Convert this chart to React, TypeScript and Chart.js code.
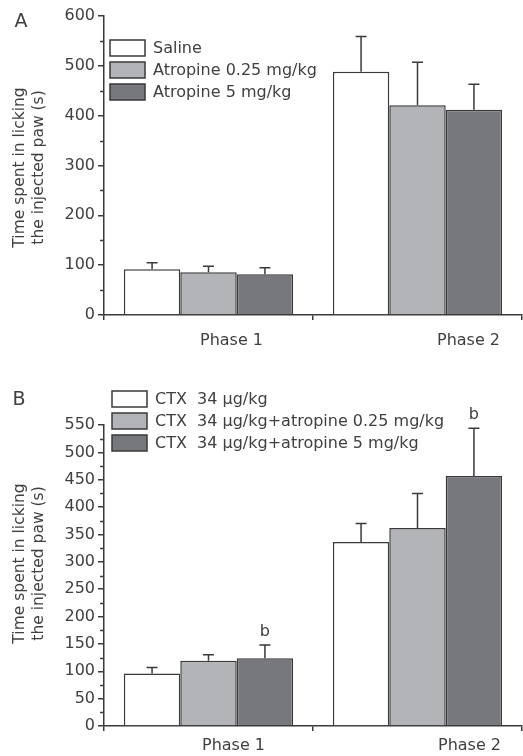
import React, { useEffect, useRef } from "react";
import { Chart, registerables } from "chart.js";
Chart.register(...registerables);

// ---------- data ----------
const categories = ["Phase 1", "Phase 2"];

const seriesLabelsA = ["Saline", "Atropine 0.25 mg/kg", "Atropine 5 mg/kg"];
const salineA = [92, 488];
const atropine025A = [86, 421];
const atropine5A = [82, 412];
const salineErrA = [13, 71];
const atropine025ErrA = [12, 86];
const atropine5ErrA = [13, 51];

const seriesLabelsB = [
  "CTX  34 μg/kg",
  "CTX  34 μg/kg+atropine 0.25 mg/kg",
  "CTX  34 μg/kg+atropine 5 mg/kg",
];
const ctxB = [96, 336];
const ctxAtropine025B = [119, 362];
const ctxAtropine5B = [124, 457];
const ctxErrB = [11, 34];
const ctxAtropine025ErrB = [11, 63];
const ctxAtropine5ErrB = [24, 87];
const significanceB = [
  ["", ""],
  ["", ""],
  ["b", "b"],
];

const yTitleLines = ["Time spent in licking", "the injected paw (s)"];
// y axis: [max, minor step, labelled step]
const yAxisA = [600, 50, 100];
const yAxisB = [550, 25, 50];

// ---------- style ----------
const FONT = "'DejaVu Sans', sans-serif";
const INK = "#3a3a3a";
const TXT = "#404040";
const FILLS = ["#ffffff", "#b3b4b7", "#77787c"];

const decorPlugin = {
  id: "decor",
  afterDatasetsDraw(chart: any, _a: any, opts: any) {
    const ctx = chart.ctx;
    const y = chart.scales.y;
    chart.data.datasets.forEach((ds: any, di: number) => {
      const meta = chart.getDatasetMeta(di);
      meta.data.forEach((bar: any, i: number) => {
        const v = ds.data[i];
        const e = opts.errors[di][i];
        const yBase = y.getPixelForValue(v);
        const yTop = y.getPixelForValue(v + e);
        ctx.save();
        ctx.strokeStyle = INK;
        ctx.lineWidth = 1.5;
        ctx.beginPath();
        ctx.moveTo(bar.x, yBase);
        ctx.lineTo(bar.x, yTop);
        ctx.moveTo(bar.x - 5.5, yTop);
        ctx.lineTo(bar.x + 5.5, yTop);
        ctx.stroke();
        const s = opts.sig && opts.sig[di] ? opts.sig[di][i] : "";
        if (s) {
          ctx.fillStyle = TXT;
          ctx.font = `16px ${FONT}`;
          ctx.textAlign = "center";
          ctx.textBaseline = "middle";
          ctx.fillText(s, bar.x, yTop - 13);
        }
        ctx.restore();
      });
    });
  },
  afterDraw(chart: any, _a: any, opts: any) {
    const ctx = chart.ctx;
    const area = chart.chartArea;
    const ys = chart.scales.y;
    ctx.save();
    // minor y ticks (shorter)
    ctx.strokeStyle = INK;
    ctx.lineWidth = 1.5;
    ctx.beginPath();
    ys.ticks.forEach((t: any) => {
      if (t.value % opts.labelStep !== 0) {
        const py = Math.round(ys.getPixelForValue(t.value)) + 0.5;
        ctx.moveTo(area.left - 4, py);
        ctx.lineTo(area.left, py);
      }
    });
    ctx.stroke();

    // panel letter
    ctx.fillStyle = TXT;
    ctx.font = `19px ${FONT}`;
    ctx.textAlign = "center";
    ctx.textBaseline = "middle";
    ctx.fillText(opts.letter, opts.letterX, opts.letterY);

    // x category labels
    ctx.font = `16px ${FONT}`;
    const xs = chart.scales.x;
    chart.data.labels.forEach((lab: string, i: number) => {
      ctx.fillText(lab, xs.getPixelForValue(i) + opts.xShift[i], area.bottom + opts.xGap);
    });

    // y title
    const cy = (area.top + area.bottom) / 2 + opts.titleShift;
    ctx.font = `15.5px ${FONT}`;
    opts.titleLines.forEach((line: string, k: number) => {
      ctx.save();
      ctx.translate(opts.titleX[k], cy);
      ctx.rotate(-Math.PI / 2);
      ctx.fillText(line, 0, 0);
      ctx.restore();
    });

    // inset legend
    ctx.textAlign = "left";
    ctx.font = `16px ${FONT}`;
    chart.data.datasets.forEach((ds: any, di: number) => {
      const cyL = opts.legendY + di * 22;
      ctx.fillStyle = ds.backgroundColor;
      ctx.fillRect(opts.legendX, cyL - 8, 35, 16);
      ctx.strokeStyle = INK;
      ctx.lineWidth = 1.5;
      ctx.strokeRect(opts.legendX, cyL - 8, 35, 16);
      ctx.fillStyle = TXT;
      ctx.fillText(ds.label, opts.legendX + 43, cyL + 1);
    });
    ctx.restore();
  },
};

function makeConfig(
  labels: string[],
  values: number[][],
  errors: number[][],
  yAxis: number[],
  padTop: number,
  xHeight: number,
  decor: any
): any {
  return {
    type: "bar",
    data: {
      labels: categories,
      datasets: values.map((v, i) => ({
        label: labels[i],
        data: v,
        backgroundColor: FILLS[i],
        borderColor: INK,
        borderWidth: 1.5,
        categoryPercentage: 0.81,
        barPercentage: 1,
      })),
    },
    plugins: [decorPlugin],
    options: {
      responsive: false,
      animation: false,
      events: [],
      layout: { padding: { top: padTop, right: 1, left: 0, bottom: 0 } },
      plugins: {
        legend: { display: false },
        tooltip: { enabled: false },
        decor: { errors, labelStep: yAxis[2], ...decor },
      },
      scales: {
        x: {
          type: "category",
          grid: {
            display: true,
            drawOnChartArea: false,
            offset: true,
            tickLength: 5,
            color: INK,
            lineWidth: 1.5,
          },
          border: { display: true, color: INK, width: 1.5 },
          ticks: { display: false },
          afterFit: (s: any) => {
            s.height = xHeight;
          },
        },
        y: {
          min: 0,
          max: yAxis[0],
          grid: {
            drawOnChartArea: false,
            tickLength: 6,
            lineWidth: 1.5,
            color: INK,
            tickColor: (c: any) =>
              c.tick && c.tick.value % yAxis[2] === 0 ? INK : "rgba(0,0,0,0)",
          },
          border: { display: true, color: INK, width: 1.5 },
          ticks: {
            stepSize: yAxis[1],
            autoSkip: false,
            padding: 3,
            color: TXT,
            font: { family: FONT, size: 16 },
            callback: (v: number) => (v % yAxis[2] === 0 ? String(v) : ""),
          },
          afterFit: (s: any) => {
            s.width = 104;
          },
        },
      },
    },
  };
}

function ChartCanvas({ config, height }: { config: any; height: number }) {
  const ref = useRef<HTMLCanvasElement>(null);
  useEffect(() => {
    const chart = new Chart(ref.current as HTMLCanvasElement, config);
    return () => chart.destroy();
  }, []);
  return <canvas ref={ref} width={523} height={height} style={{ display: "block" }} />;
}

export default function App() {
  const cfgA = makeConfig(
    seriesLabelsA,
    [salineA, atropine025A, atropine5A],
    [salineErrA, atropine025ErrA, atropine5ErrA],
    yAxisA,
    16,
    45,
    {
      letter: "A",
      letterX: 21,
      letterY: 22,
      xShift: [23, 51],
      xGap: 26,
      titleLines: yTitleLines,
      titleX: [20, 39],
      titleShift: 2,
      legendX: 110,
      legendY: 48,
    }
  );
  const cfgB = makeConfig(
    seriesLabelsB,
    [ctxB, ctxAtropine025B, ctxAtropine5B],
    [ctxErrB, ctxAtropine025ErrB, ctxAtropine5ErrB],
    yAxisB,
    65,
    30,
    {
      sig: significanceB,
      letter: "B",
      letterX: 19,
      letterY: 40,
      xShift: [25, 52],
      xGap: 20,
      titleLines: yTitleLines,
      titleX: [20, 39],
      titleShift: -12,
      legendX: 112,
      legendY: 39,
    }
  );
  return (
    <div style={{ position: "absolute", left: 0, top: 0, width: 523, height: 756, background: "#fff" }}>
      <ChartCanvas config={cfgA} height={360} />
      <ChartCanvas config={cfgB} height={396} />
    </div>
  );
}
